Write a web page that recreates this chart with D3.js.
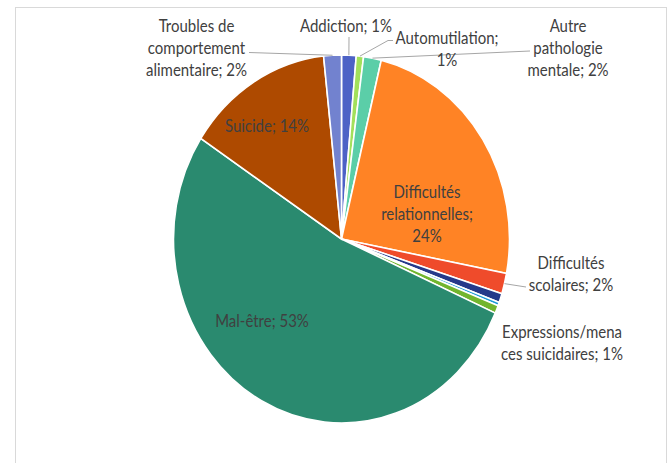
<!DOCTYPE html>
<html><head><meta charset="utf-8">
<script src="https://cdn.jsdelivr.net/npm/d3@7/dist/d3.min.js"></script>
<style>html,body{margin:0;padding:0;background:#fff;}svg{display:block;}</style>
</head><body>
<svg id="chart" width="669" height="463"></svg>
<script>
// ---- data ----
const categories = ["Addiction","Automutilation","Autre pathologie mentale","Difficultés relationnelles","Difficultés scolaires","Expressions/menaces suicidaires","","","Mal-être","Suicide","Troubles de comportement alimentaire"];
const values = [1.4, 0.7, 1.7, 24.2, 1.8, 0.8, 0.3, 0.7, 52.6, 14.1, 1.7];
const colors = ["#4D62C6","#A2E05B","#5BCEA8","#FF8325","#EF4B2B","#25398A","#1E9BD7","#72B52E","#2A8A6F","#AE4A00","#7282CF"];
// characters per line used to wrap each label; null = no label
const wraps = [[13],[16,2],[6,11,11],[12,16,3],[12,13],[16,19],null,null,[13],[12],[12,13,15]];

// ---- layout ----
const W = 669, H = 463;
const cx = 341.5, cy = 239, rx = 168, ry = 184, sy = ry / rx;
const lineH = 22.3;
const labelPos = [
  {x:346,y:25},{x:447,y:37},{x:568,y:25},{x:427,y:191},{x:571,y:262},{x:562,y:331},null,null,
  {x:262,y:320},{x:267,y:125},{x:196.5,y:25}
];
const leaders = [
  [[349,37]], [[388,40.5],[393,40.5]], [[530,51]], null, [[526,287]], null, null, null, null, null, [[249,52.5]]
];

const svg = d3.select("#chart");
svg.append("rect").attr("x",15.5).attr("y",7.5).attr("width",651).attr("height",520)
  .attr("fill","#fff").attr("stroke","#d9d9d9").attr("stroke-width",1);

const total = d3.sum(values);
const pie = d3.pie().sort(null).value(d => d)(values);
const arc = d3.arc().innerRadius(0).outerRadius(rx);

const g = svg.append("g").attr("transform",`translate(${cx},${cy}) scale(1,${sy})`);
g.selectAll("path").data(pie).join("path")
  .attr("d", arc)
  .attr("fill",(d,i)=>colors[i])
  .attr("stroke","#fff").attr("stroke-width",1.6)
  .attr("vector-effect","non-scaling-stroke");

function rimPoint(d){
  const a = (d.startAngle + d.endAngle)/2;
  return [cx + rx*Math.sin(a), cy - ry*Math.cos(a)];
}

// leaders
pie.forEach((d,i)=>{
  if(!leaders[i]) return;
  const pts = [rimPoint(d), ...leaders[i]];
  svg.append("path").attr("d", d3.line()(pts)).attr("fill","none")
    .attr("stroke","#a6a6a6").attr("stroke-width",1);
});

// labels
pie.forEach((d,i)=>{
  if(!wraps[i] || !labelPos[i]) return;
  const pct = Math.round(values[i]/total*100) + "%";
  const full = categories[i] + "; " + pct;
  const lines = []; let k = 0;
  wraps[i].forEach(n => { lines.push(full.slice(k,k+n).trim()); k += n; });
  const p = labelPos[i];
  lines.forEach((ln,j)=>{
    svg.append("text")
      .attr("transform",`translate(${p.x},${p.y + j*lineH}) scale(1,${sy})`)
      .attr("text-anchor","middle").attr("dominant-baseline","central")
      .attr("font-family","Lato, 'Open Sans', sans-serif").attr("font-size",15)
      .attr("fill","#404040").text(ln);
  });
});
</script>
</body></html>
